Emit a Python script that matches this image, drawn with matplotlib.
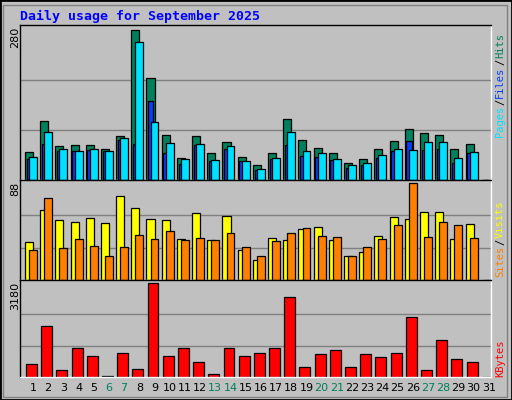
import matplotlib
matplotlib.use("Agg")
import matplotlib.pyplot as plt
from matplotlib.patches import Rectangle

days = list(range(1, 32))
hits  = [52,109,63,65,65,58,82,280,190,84,41,82,50,71,42,27,50,113,75,60,50,31,39,58,73,94,88,84,58,67,0]
files = [39,67,54,54,56,54,75,67,147,50,29,65,35,58,35,18,39,65,44,42,37,23,27,41,54,73,56,58,31,50,0]
pages = [42,90,58,54,58,54,78,257,107,69,39,67,37,63,35,20,41,90,54,50,39,27,31,46,58,56,71,71,41,52,0]
visits= [34,63,54,53,56,52,76,65,55,54,37,61,36,58,27,18,38,36,46,48,36,22,25,40,57,55,62,62,37,51,0]
sites = [27,74,29,37,31,22,30,41,37,44,36,38,36,43,30,22,35,43,47,40,39,22,30,37,50,88,39,53,50,38,0]
kbytes= [429,1717,220,986,708,46,812,255,3180,708,986,499,116,986,708,812,986,2692,325,777,917,325,777,673,812,2031,220,1265,603,499,0]
weekend = {6,7,13,14,20,21,27,28}

W, H = 512, 400
fig = plt.figure(figsize=(W/100, H/100), dpi=100)
fig.patch.set_facecolor('#c0c0c0')
fig.patches.append(Rectangle((0, 0), 1, 1, transform=fig.transFigure, fill=False,
                             edgecolor='black', linewidth=2))
fig.patches.append(Rectangle((3/W, 3/H), 1-8/W, 1-8/H, transform=fig.transFigure, fill=False,
                             edgecolor='#808080', linewidth=1))

def ax_px(x0, y0, x1, y1):
    return fig.add_axes([x0/W, 1-y1/H, (x1-x0)/W, (y1-y0)/H])

XMIN, XMAX = 0.145, 31.145
mono = 'DejaVu Sans Mono'
ec = 'black'
lw = 0.9

def setup(ax, top):
    ax.set_facecolor('#c0c0c0')
    ax.set_xlim(XMIN, XMAX)
    ax.set_ylim(0, top*1.03)
    for f in (1/3, 2/3):
        ax.axhline(top*f, color='#808080', lw=1, zorder=0)
    ax.set_xticks([]); ax.set_yticks([])
    for s in ax.spines.values():
        s.set_color('black'); s.set_linewidth(1)
    ax.spines['bottom'].set_color('white'); ax.spines['right'].set_color('white')

a1 = ax_px(20, 25, 491, 180)
setup(a1, 280)
a1.bar([d-0.53 for d in days], hits, width=0.53, align='edge', color='#00805c', edgecolor=ec, lw=lw, zorder=2)
a1.bar([d-0.42 for d in days], files, width=0.35, align='edge', color='#0040ff', edgecolor=ec, lw=lw, zorder=3)
a1.bar([d-0.26 for d in days], pages, width=0.52, align='edge', color='#00e0ff', edgecolor=ec, lw=lw, zorder=4)

a2 = ax_px(20, 180, 491, 280)
setup(a2, 88)
a2.bar([d-0.53 for d in days], visits, width=0.53, align='edge', color='#ffff00', edgecolor=ec, lw=lw, zorder=2)
a2.bar([d-0.26 for d in days], sites, width=0.52, align='edge', color='#ff8000', edgecolor=ec, lw=lw, zorder=3)

a3 = ax_px(20, 280, 491, 377)
setup(a3, 3180)
a3.bar([d-0.46 for d in days], kbytes, width=0.72, align='edge', color='#ff0000', edgecolor=ec, lw=lw, zorder=2)

for d in days:
    xf = (20 + (d-XMIN)/(XMAX-XMIN)*471)/W
    fig.text(xf, 1-388/H, str(d), ha='center', va='center', fontsize=8, family='DejaVu Sans',
             color='#00805c' if d in weekend else 'black')

fig.text(20/W, 1-16/H, 'Daily usage for September 2025', fontsize=9.5, family=mono,
         weight='bold', color='#0000ff', va='center')

for y, t in ((27, '280'), (182, '88'), (282, '3180')):
    fig.text(15/W, 1-y/H, t, rotation=90, ha='center', va='top', fontsize=8, family='DejaVu Sans')

fig.canvas.draw()
renderer = fig.canvas.get_renderer()

def vlabel(parts, ybottom):
    y = ybottom
    for txt, col in parts:
        t = fig.text(500/W, 1-y/H, txt, rotation=90, ha='center', va='bottom', fontsize=7.5,
                     family=mono, color=col)
        bb = t.get_window_extent(renderer)
        y -= bb.height + 1

vlabel([('Pages', '#00e0ff'), ('/', '#000000'), ('Files', '#0040ff'), ('/', '#000000'), ('Hits', '#00805c')], 137)
vlabel([('Sites', '#ff8000'), ('/', '#000000'), ('Visits', '#ffff00')], 277)
vlabel([('KBytes', '#ff0000')], 377)

fig.savefig('out.png', dpi=100, facecolor=fig.get_facecolor())
